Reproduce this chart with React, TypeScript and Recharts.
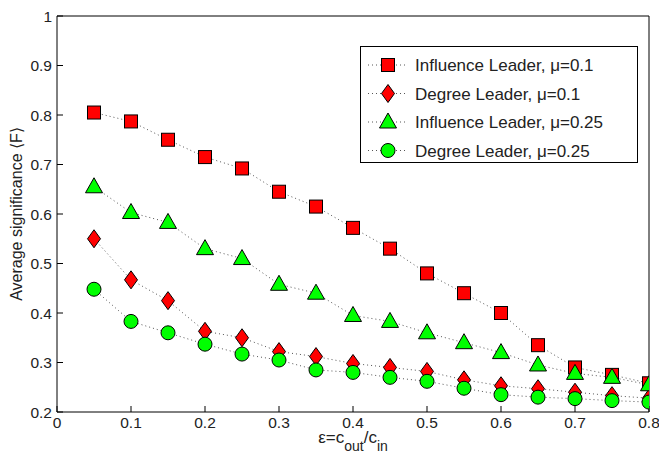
import React from "react";
import {
  ComposedChart,
  Line,
  XAxis,
  YAxis,
  Legend,
  Label,
} from "recharts";

const FONT = "'Liberation Sans', Arial, Helvetica, sans-serif";

const epsilon = [0.05, 0.1, 0.15, 0.2, 0.25, 0.3, 0.35, 0.4, 0.45, 0.5, 0.55, 0.6, 0.65, 0.7, 0.75, 0.8];

const influence01 = [0.805, 0.787, 0.75, 0.715, 0.692, 0.645, 0.615, 0.572, 0.53, 0.48, 0.44, 0.4, 0.335, 0.29, 0.275, 0.258];
const degree01 = [0.55, 0.467, 0.425, 0.363, 0.35, 0.322, 0.312, 0.298, 0.29, 0.282, 0.265, 0.253, 0.247, 0.24, 0.233, 0.228];
const influence025 = [0.655, 0.603, 0.583, 0.53, 0.51, 0.458, 0.44, 0.395, 0.383, 0.36, 0.34, 0.32, 0.295, 0.278, 0.27, 0.255];
const degree025 = [0.448, 0.383, 0.36, 0.337, 0.317, 0.305, 0.285, 0.28, 0.27, 0.262, 0.248, 0.235, 0.23, 0.227, 0.223, 0.22];

const xTicks = [0, 0.1, 0.2, 0.3, 0.4, 0.5, 0.6, 0.7, 0.8];
const yTicks = [0.2, 0.3, 0.4, 0.5, 0.6, 0.7, 0.8, 0.9, 1];

type Shape = "square" | "diamond" | "triangle" | "circle";

const series: { key: string; name: string; shape: Shape; fill: string; values: number[] }[] = [
  { key: "inf01", name: "Influence Leader, \u03bc=0.1", shape: "square", fill: "#ff0000", values: influence01 },
  { key: "deg01", name: "Degree Leader, \u03bc=0.1", shape: "diamond", fill: "#ff0000", values: degree01 },
  { key: "inf025", name: "Influence Leader, \u03bc=0.25", shape: "triangle", fill: "#00ff00", values: influence025 },
  { key: "deg025", name: "Degree Leader, \u03bc=0.25", shape: "circle", fill: "#00ff00", values: degree025 },
];

const data = epsilon.map((x, i) => {
  const row: Record<string, number> = { x };
  series.forEach((s) => (row[s.key] = s.values[i]));
  return row;
});

function Marker({ cx, cy, shape, fill }: { cx: number; cy: number; shape: Shape; fill: string }) {
  const common = { fill, stroke: "#000", strokeWidth: 1 };
  if (shape === "square") return <rect x={cx - 6.5} y={cy - 6.5} width={13} height={13} {...common} />;
  if (shape === "diamond")
    return <polygon points={`${cx},${cy - 9} ${cx + 6.5},${cy} ${cx},${cy + 9} ${cx - 6.5},${cy}`} {...common} />;
  if (shape === "triangle")
    return <polygon points={`${cx},${cy - 9} ${cx + 8.5},${cy + 6} ${cx - 8.5},${cy + 6}`} {...common} />;
  return <circle cx={cx} cy={cy} r={7} {...common} />;
}

function makeDot(shape: Shape, fill: string) {
  return (props: any) => {
    const { cx, cy, index } = props;
    if (cx == null || cy == null) return <g key={index} />;
    return (
      <g key={`${shape}-${index}`}>
        <Marker cx={cx} cy={cy} shape={shape} fill={fill} />
      </g>
    );
  };
}

function LegendBox() {
  return (
    <svg width={278} height={117} style={{ display: "block" }}>
      <rect x={0.5} y={0.5} width={277} height={116} fill="#fff" stroke="#000" />
      {series.map((s, i) => {
        const cy = 19 + i * 28.5;
        return (
          <g key={s.key}>
            <line x1={8} x2={48} y1={cy} y2={cy} stroke="#555" strokeDasharray="1 3" />
            <Marker cx={28} cy={cy} shape={s.shape} fill={s.fill} />
            <text x={55} y={cy + 6} fontSize={17} fill="#222" fontFamily={FONT}>
              {s.name}
            </text>
          </g>
        );
      })}
    </svg>
  );
}

// x title with low subscripts: ε = c_out / c_in
function XTitle(props: any) {
  const { viewBox } = props;
  const cx = viewBox.x + viewBox.width / 2;
  return (
    <text x={cx} y={443} textAnchor="middle" fontSize={17} fill="#222" fontFamily={FONT}>
      <tspan>{"\u03b5=c"}</tspan>
      <tspan fontSize={14} dy={8}>out</tspan>
      <tspan dy={-8}>/c</tspan>
      <tspan fontSize={14} dy={8}>in</tspan>
    </text>
  );
}

function YTitle(props: any) {
  const { viewBox } = props;
  const cy = viewBox.y + viewBox.height / 2;
  return (
    <text
      x={16}
      y={cy}
      transform={`rotate(-90 16 ${cy})`}
      textAnchor="middle"
      dominantBaseline="central"
      fontSize={16}
      fill="#222"
      fontFamily={FONT}
    >
      {"Average significance \u27e8F\u27e9"}
    </text>
  );
}

const tickStyle = { fontSize: 15.5, fill: "#222", fontFamily: FONT };

export default function App() {
  return (
    <div style={{ position: "absolute", left: 0, top: 0, width: 659, height: 461, background: "#fff", fontFamily: FONT }}>
      <ComposedChart
        width={659}
        height={461}
        data={data}
        margin={{ top: 15, right: 9, bottom: 0, left: 0 }}
      >
        <XAxis
          xAxisId="bottom"
          dataKey="x"
          type="number"
          domain={[0, 0.8]}
          ticks={xTicks}
          allowDataOverflow
          height={49}
          tickSize={-6}
          tickMargin={11}
          stroke="#000"
          tick={tickStyle}
          tickFormatter={(v: number) => String(v)}
        >
          <Label content={<XTitle />} />
        </XAxis>
        <XAxis
          xAxisId="top"
          dataKey="x"
          type="number"
          orientation="top"
          domain={[0, 0.8]}
          ticks={xTicks}
          height={1}
          tickSize={-6}
          tick={false}
          stroke="#000"
        />
        <YAxis
          yAxisId="left"
          type="number"
          domain={[0.2, 1]}
          ticks={yTicks}
          allowDataOverflow
          width={57}
          tickSize={-6}
          tickMargin={11}
          stroke="#000"
          tick={tickStyle}
          tickFormatter={(v: number) => String(v)}
        >
          <Label content={<YTitle />} />
        </YAxis>
        <YAxis
          yAxisId="right"
          type="number"
          orientation="right"
          domain={[0.2, 1]}
          ticks={yTicks}
          width={1}
          tickSize={-6}
          tick={false}
          stroke="#000"
        />
        {series.map((s) => (
          <Line
            key={s.key}
            xAxisId="bottom"
            yAxisId="left"
            dataKey={s.key}
            name={s.name}
            type="linear"
            stroke="#555"
            strokeWidth={1}
            strokeDasharray="1 3"
            dot={makeDot(s.shape, s.fill)}
            activeDot={false}
            isAnimationActive={false}
          />
        ))}
        <Legend
          layout="horizontal"
          verticalAlign="middle"
          align="center"
          content={() => <LegendBox />}
          wrapperStyle={{ top: 46, left: 360, width: 278, height: 117, right: "auto", bottom: "auto" }}
        />
      </ComposedChart>
    </div>
  );
}
